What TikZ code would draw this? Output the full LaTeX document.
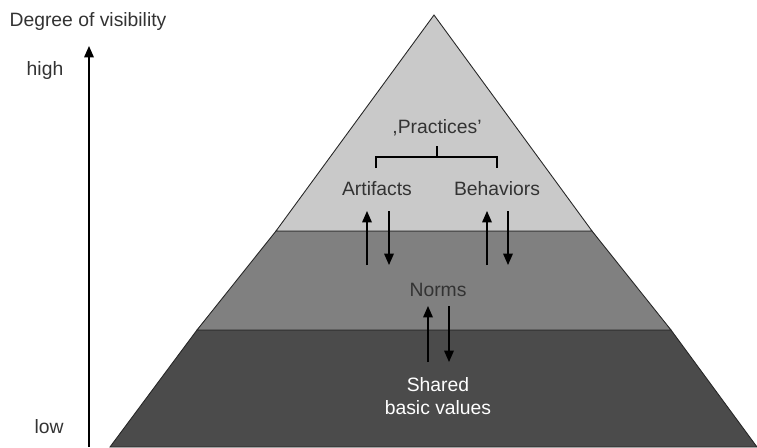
\documentclass[tikz,border=0pt]{standalone}
\usepackage{fontspec}
\setmainfont{Liberation Sans}
\usetikzlibrary{arrows.meta}
\definecolor{bandA}{HTML}{C9C9C9}
\definecolor{bandB}{HTML}{808080}
\definecolor{bandC}{HTML}{4B4B4B}
\definecolor{txtgray}{HTML}{333333}

\begin{document}
\begin{tikzpicture}[x=0.02cm,y=-0.02cm,lbl/.style={text=txtgray,font=\fontsize{11}{13}\selectfont,inner sep=0pt},lblW/.style={lbl,text=white,align=center},band/.style={draw=black!85,line width=0.5pt},arr/.style={-{Triangle[length=6.5pt,width=5.5pt]},line width=0.7pt}]
\useasboundingbox (0,0) rectangle (757,447);

% pyramid
\def\ax{434};
\def\ay{15};
\fill[bandC,band] (197,330) -- (671,330) -- (757,447) -- (110,447) -- cycle;
\fill[bandB,band] (276,231) -- (592,231) -- (671,330) -- (197,330) -- cycle;
\fill[bandA,band] (\ax,\ay) -- (592,231) -- (276,231) -- cycle;

% axis
\node[lbl] (deg) at (88,22) {Degree of visibility};
\node[lbl] (high) at (45,70) {high};
\node[lbl] (low) at (49,427) {low};
\coordinate (axB) at (89,447);
\coordinate (axT) at (89,46);
\draw[arr] (axB) -- (axT);

% practices
\node[lbl] (prac) at (437,128) {,Practices'};
\node[lbl] (art) at (377,189) {Artifacts};
\node[lbl] (beh) at (497,189) {Behaviors};
\coordinate (brA) at (376,168);
\coordinate (brB) at (497,168);
\coordinate (brM) at (437,157);
\coordinate (brT) at (437,146);
\draw[line width=0.7pt] (brA) |- (brM) -| (brB);
\draw[line width=0.7pt] (brM) -- (brT);

\node[lbl] (norms) at (438,290) {Norms};
\node[lblW] (vals) at (438,396) {Shared\\basic values};

% arrows between layers
\coordinate (a1) at (367,265);
\coordinate (a2) at (367,211);
\coordinate (a3) at (389,211);
\coordinate (a4) at (389,265);
\draw[arr] (a1) -- (a2);
\draw[arr] (a3) -- (a4);
\coordinate (b1) at (487,265);
\coordinate (b2) at (487,211);
\coordinate (b3) at (508,211);
\coordinate (b4) at (508,265);
\draw[arr] (b1) -- (b2);
\draw[arr] (b3) -- (b4);
\coordinate (n1) at (428,362);
\coordinate (n2) at (428,306);
\coordinate (n3) at (449,306);
\coordinate (n4) at (449,362);
\draw[arr] (n1) -- (n2);
\draw[arr] (n3) -- (n4);
\end{tikzpicture}
\end{document}
